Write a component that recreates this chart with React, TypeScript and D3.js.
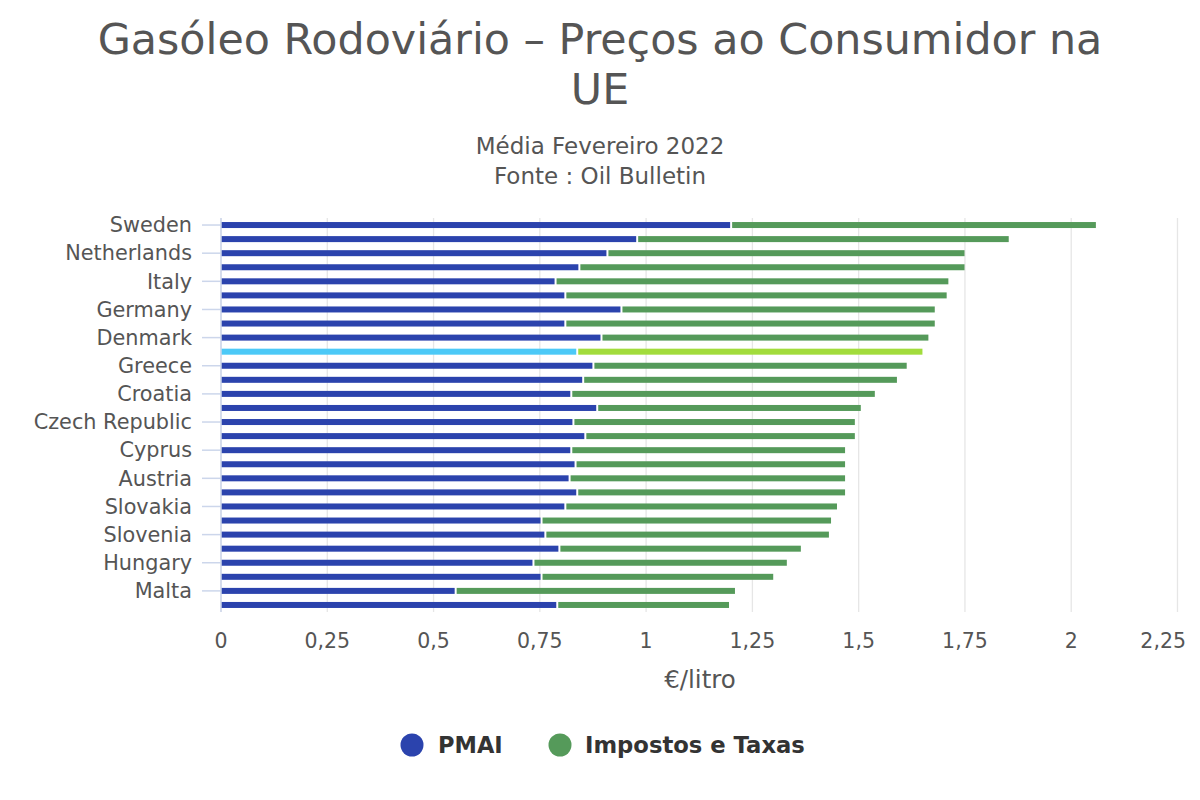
import React from "react";
import * as d3 from "d3";

const categories = [
  "Sweden", "Finland", "Netherlands", "Belgium", "Italy", "Ireland", "Germany", "France",
  "Denmark", "Portugal", "Greece", "Média UE", "Croatia", "Spain", "Czech Republic", "Latvia",
  "Cyprus", "Estonia", "Austria", "Lithuania", "Slovakia", "Romania", "Slovenia", "Luxembourg",
  "Hungary", "Poland", "Malta", "Bulgaria",
];

// PMAI (preço médio antes de impostos), €/litro
const pmai = [
  1.2, 0.979, 0.909, 0.843, 0.787, 0.81, 0.942, 0.81,
  0.895, 0.838, 0.876, 0.852, 0.824, 0.885, 0.829, 0.857,
  0.824, 0.834, 0.82, 0.838, 0.81, 0.754, 0.763, 0.796,
  0.735, 0.754, 0.552, 0.791,
];

// Impostos e Taxas, €/litro
const taxes = [
  0.858, 0.874, 0.84, 0.906, 0.924, 0.897, 0.737, 0.869,
  0.769, 0.812, 0.737, 0.738, 0.714, 0.62, 0.662, 0.634,
  0.644, 0.634, 0.648, 0.63, 0.639, 0.681, 0.667, 0.568,
  0.596, 0.545, 0.657, 0.404,
];

const xTicks = [0, 0.25, 0.5, 0.75, 1, 1.25, 1.5, 1.75, 2, 2.25];
const highlighted = "Portugal";

const seriesNames = ["PMAI", "Impostos e Taxas"];
const seriesColors = ["#2b43ad", "#559a5a"];
const highlightColors = ["#4cc9f7", "#a2dc3c"];

const FONT = "'DejaVu Sans', Verdana, sans-serif";

export default function App() {
  const W = 1200;
  const H = 800;
  const left = 221;
  const right = 1177.5;
  const top = 218;
  const bottom = 612;

  const x = d3.scaleLinear().domain([0, 2.25]).range([left, right]);
  const y = d3.scaleBand<string>().domain(categories).range([top, bottom]).paddingInner(0).paddingOuter(0);
  const bw = y.bandwidth();
  const barH = 6;
  const fmt = (v: number) => String(v).replace(".", ",");

  return (
    <svg
      width={W}
      height={H}
      style={{ position: "absolute", left: 0, top: 0, background: "#fff" }}
      fontFamily={FONT}
    >
      <rect x={0} y={0} width={W} height={H} fill="#fff" />
      {/* Title */}
      <text x={600} y={54} textAnchor="middle" fontSize={42.8} fill="#555">
        Gasóleo Rodoviário – Preços ao Consumidor na
      </text>
      <text x={600} y={104} textAnchor="middle" fontSize={42.8} fill="#555">
        UE
      </text>
      <text x={600} y={154} textAnchor="middle" fontSize={23} fill="#555">
        Média Fevereiro 2022
      </text>
      <text x={600} y={184} textAnchor="middle" fontSize={23} fill="#555">
        Fonte : Oil Bulletin
      </text>

      {/* Gridlines */}
      {xTicks.map((t) => (
        <line key={"g" + t} x1={x(t)} x2={x(t)} y1={top} y2={bottom} stroke="#e6e6e6" strokeWidth={1.3} />
      ))}

      {/* Bars */}
      {categories.map((c, i) => {
        const cy = (y(c) as number) + bw / 2;
        const hl = c === highlighted;
        const cols = hl ? highlightColors : seriesColors;
        const x0 = x(0);
        const x1 = x(pmai[i]);
        const x2 = x(pmai[i] + taxes[i]);
        return (
          <g key={c}>
            <rect x={x0} y={cy - barH / 2} width={Math.max(0, x1 - x0 - 1)} height={barH} fill={cols[0]} />
            <rect x={x1 + 1} y={cy - barH / 2} width={Math.max(0, x2 - x1 - 1)} height={barH} fill={cols[1]} />
          </g>
        );
      })}

      {/* Y axis line */}
      <line x1={left} x2={left} y1={top} y2={bottom} stroke="#ccd6eb" strokeWidth={1.5} />
      {categories.map((c, i) => {
        if (i % 2 !== 0) return null;
        const cy = (y(c) as number) + bw / 2;
        return (
          <g key={"l" + c}>
            <line x1={202} x2={left} y1={cy} y2={cy} stroke="#ccd6eb" strokeWidth={1.5} />
            <text x={192} y={cy} dy="0.35em" textAnchor="end" fontSize={20.8} fill="#555">
              {c}
            </text>
          </g>
        );
      })}

      {/* X tick labels */}
      {xTicks.map((t, i) => {
        const last = i === xTicks.length - 1;
        return (
          <text
            key={"t" + t}
            x={last ? 1186 : x(t)}
            y={648}
            textAnchor={last ? "end" : "middle"}
            fontSize={20.5}
            fill="#555"
          >
            {fmt(t)}
          </text>
        );
      })}
      <text x={700} y={688} textAnchor="middle" fontSize={24.5} fill="#555">
        €/litro
      </text>

      {/* Legend */}
      <g>
        <circle cx={412} cy={745} r={11.5} fill={seriesColors[0]} />
        <text x={438} y={745} dy="0.35em" fontSize={22.5} fontWeight="bold" fill="#333">
          {seriesNames[0]}
        </text>
        <circle cx={560} cy={745} r={11.5} fill={seriesColors[1]} />
        <text x={585} y={745} dy="0.35em" fontSize={22.7} fontWeight="bold" fill="#333">
          {seriesNames[1]}
        </text>
      </g>
    </svg>
  );
}
